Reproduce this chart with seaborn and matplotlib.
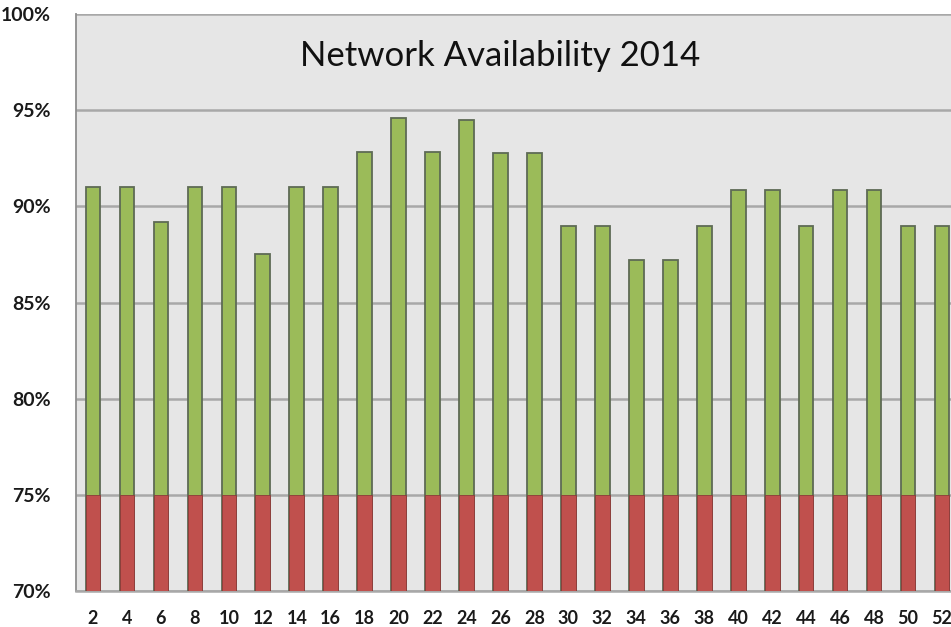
#!/usr/bin/env python3
"""Network availability per week, 2014 (threshold bar chart)."""

import numpy as np
import pandas as pd
import matplotlib
matplotlib.use("Agg")
import matplotlib.pyplot as plt
import seaborn as sns
from matplotlib.ticker import FixedLocator, PercentFormatter

# --- data ---
weeks = [str(w) for w in range(2, 53, 2)]
availability = [91.0, 91.0, 89.2, 91.0, 91.0, 87.5, 91.0, 91.0, 92.8, 94.6,
                92.8, 94.5, 92.75, 92.75, 89.0, 89.0, 87.2, 87.2, 89.0, 90.85,
                90.85, 89.0, 90.85, 90.85, 89.0, 89.0]
threshold = [75.0] * len(weeks)
y_ticks = [70, 75, 80, 85, 90, 95, 100]
title = "Network Availability 2014"

GREEN = "#9BBB59"
RED = "#C0504D"
EDGE = "#5E6B55"
GRID = "#A8A8A8"
BG = "#E6E6E6"

sns.set_style("white")
plt.rcParams["font.family"] = ["Lato", "DejaVu Sans"]

df = pd.DataFrame({"week": weeks, "availability": availability, "threshold": threshold})

fig = plt.figure(figsize=(9.51, 6.27), dpi=100)
ax = fig.add_axes([76 / 951, 1 - 591 / 627, (959 - 76) / 951, (591 - 14) / 627])
ax.set_facecolor(BG)

# green = full availability, red overlay = part below the 75% threshold
sns.barplot(data=df, x="week", y="availability", order=weeks, color=GREEN,
            saturation=1, width=0.43, edgecolor=EDGE, linewidth=1.3, ax=ax, zorder=3)
sns.barplot(data=df, x="week", y="threshold", order=weeks, color=RED,
            saturation=1, width=0.43, edgecolor="#8C3A38", linewidth=0.6, ax=ax, zorder=4)

ax.set_ylim(70, 100)
ax.set_xlim(-0.5, len(weeks) - 0.5)
ax.yaxis.set_major_locator(FixedLocator(y_ticks))
ax.yaxis.set_major_formatter(PercentFormatter(decimals=0))
ax.yaxis.grid(True, color=GRID, linewidth=1.8, zorder=0)
ax.set_axisbelow(True)

# x tick marks sit on category boundaries, labels at the centres
ax.xaxis.set_minor_locator(FixedLocator(np.arange(-0.5, len(weeks), 1.0)))
ax.tick_params(axis="x", which="major", length=0, pad=14, labelsize=13)
ax.tick_params(axis="x", which="minor", length=6, width=1.3, color=GRID, direction="out")
ax.tick_params(axis="y", which="major", length=7, width=1.3, color=GRID,
               direction="out", pad=11, labelsize=14)
for lbl in ax.get_xticklabels() + ax.get_yticklabels():
    lbl.set_fontweight("bold")
    lbl.set_color("#1a1a1a")

ax.set_xlabel("")
ax.set_ylabel("")
for side in ("top", "right"):
    ax.spines[side].set_visible(False)
ax.spines["left"].set_color("#8E8E8E")
ax.spines["left"].set_linewidth(1.3)
ax.spines["bottom"].set_color(GRID)
ax.spines["bottom"].set_linewidth(1.8)

ax.text(0.48, 0.928, title, transform=ax.transAxes, ha="center", va="center",
        fontsize=25, color="#111111", zorder=5)

fig.savefig("out.png", dpi=100)
